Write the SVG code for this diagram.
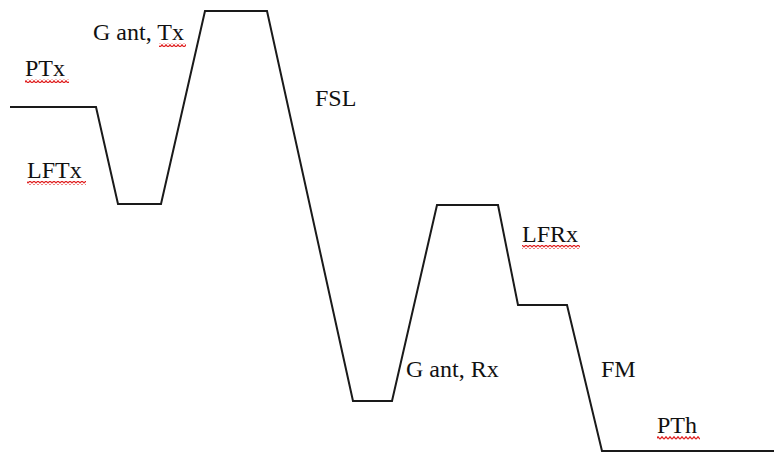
<svg xmlns="http://www.w3.org/2000/svg" width="774" height="453" viewBox="0 0 774 453">
<defs>
<style>
.lbl{font-family:"Liberation Serif","Times New Roman",serif;font-size:24px;fill:#111}
.curve{fill:none;stroke:#1a1a1a;stroke-width:2;stroke-linejoin:miter}
</style>
<pattern id="wave" width="4" height="4" patternUnits="userSpaceOnUse">
<path d="M0,3.2 L2,0.8 L4,3.2" fill="none" stroke="#e02020" stroke-width="1.3"/>
</pattern>
</defs>
<rect width="774" height="453" fill="#fff"/>
<g id="connectors">
<polyline class="curve" points="10,107 96,107 118,204 161,204 205,11 267,11 353,401 392,401 437,205 498,205 518,305 567,305 602,451 774,451"/>
</g>
<g id="PTx"><text class="lbl" x="25" y="76">PTx</text><rect x="25" y="79" width="44" height="4" fill="url(#wave)"/></g>
<g id="GantTx"><text class="lbl" x="93" y="40">G ant, Tx</text><rect x="159" y="43" width="27" height="4" fill="url(#wave)"/></g>
<g id="LFTx"><text class="lbl" x="27" y="178">LFTx</text><rect x="27" y="181" width="59" height="4" fill="url(#wave)"/></g>
<g id="FSL"><text class="lbl" x="315" y="106">FSL</text></g>
<g id="LFRx"><text class="lbl" x="522" y="242">LFRx</text><rect x="522" y="245" width="58" height="4" fill="url(#wave)"/></g>
<g id="GantRx"><text class="lbl" x="406" y="377">G ant, Rx</text></g>
<g id="FM"><text class="lbl" x="601" y="377">FM</text></g>
<g id="PTh"><text class="lbl" x="657" y="433">PTh</text><rect x="657" y="436" width="43" height="4" fill="url(#wave)"/></g>
</svg>
